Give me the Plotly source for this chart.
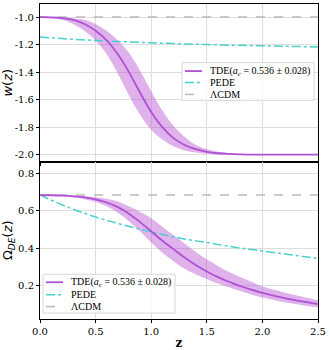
import plotly.graph_objects as go
from plotly.subplots import make_subplots

# redshift grid
z = [0.0, 0.1, 0.2, 0.3, 0.4, 0.5, 0.6, 0.7, 0.8, 0.9, 1.0, 1.1, 1.2,
     1.3, 1.4, 1.5, 1.6, 1.7, 1.8, 1.9, 2.0, 2.1, 2.2, 2.3, 2.4, 2.5]

# w(z) for TDE, with band
w_tde = [-1.0, -1.002, -1.008, -1.02, -1.05, -1.10, -1.17, -1.27, -1.40, -1.55,
         -1.69, -1.80, -1.88, -1.93, -1.96, -1.98, -1.99, -1.995, -1.998, -2.0,
         -2.0, -2.0, -2.0, -2.0, -2.0, -2.0]
w_tde_hi = [-1.0, -1.0, -1.002, -1.008, -1.02, -1.05, -1.10, -1.17, -1.26, -1.39,
            -1.54, -1.68, -1.79, -1.87, -1.93, -1.96, -1.98, -1.99, -1.995, -1.998,
            -2.0, -2.0, -2.0, -2.0, -2.0, -2.0]
w_tde_lo = [-1.002, -1.008, -1.02, -1.05, -1.10, -1.17, -1.27, -1.41, -1.57, -1.71,
            -1.82, -1.89, -1.94, -1.97, -1.985, -1.993, -1.997, -1.999, -2.0, -2.0,
            -2.0, -2.0, -2.0, -2.0, -2.0, -2.0]

# PEDE
z_pede = [0.0, 0.25, 0.5, 0.75, 1.0, 1.25, 1.5, 1.75, 2.0, 2.25, 2.5]
w_pede = [-1.145, -1.159, -1.170, -1.179, -1.187, -1.194, -1.200, -1.205, -1.209, -1.213, -1.217]
om_pede = [0.685, 0.62, 0.567, 0.525, 0.487, 0.455, 0.43, 0.405, 0.385, 0.365, 0.345]

# LCDM
z_lcdm = [0.0, 2.5]
w_lcdm = [-1.0, -1.0]
om_lcdm = [0.685, 0.685]

# Omega_DE(z) for TDE, with band
om_tde = [0.685, 0.684, 0.682, 0.678, 0.672, 0.662, 0.645, 0.62, 0.585, 0.54,
          0.49, 0.44, 0.395, 0.35, 0.31, 0.275, 0.245, 0.22, 0.197, 0.178,
          0.16, 0.145, 0.132, 0.12, 0.11, 0.10]
om_tde_hi = [0.686, 0.685, 0.684, 0.682, 0.679, 0.673, 0.665, 0.65, 0.625, 0.595,
             0.56, 0.515, 0.47, 0.425, 0.38, 0.34, 0.305, 0.272, 0.245, 0.22,
             0.195, 0.178, 0.161, 0.147, 0.134, 0.12]
om_tde_lo = [0.684, 0.683, 0.68, 0.673, 0.663, 0.648, 0.625, 0.59, 0.545, 0.49,
             0.43, 0.375, 0.33, 0.29, 0.26, 0.235, 0.21, 0.19, 0.17, 0.152,
             0.135, 0.122, 0.11, 0.1, 0.09, 0.082]

xt = [0.0, 0.5, 1.0, 1.5, 2.0, 2.5]
wt = [-2.0, -1.8, -1.6, -1.4, -1.2, -1.0]
ot = [0.2, 0.4, 0.6, 0.8]

legend_names = ['TDE(<i>a<sub>c</sub></i> = 0.536 ± 0.028)', 'PEDE', 'ΛCDM']

purple = '#b050d5'
band = 'rgba(186,85,211,0.45)'
cyan = '#48d1cc'
grey = '#bbbbbb'
serif = 'DejaVu Serif'

fig = make_subplots(rows=2, cols=1, shared_xaxes=True, vertical_spacing=0)

for row, yv, hi, lo, pede, lcdm in [
        (1, w_tde, w_tde_hi, w_tde_lo, w_pede, w_lcdm),
        (2, om_tde, om_tde_hi, om_tde_lo, om_pede, om_lcdm)]:
    fig.add_trace(go.Scatter(x=z, y=hi, mode='lines', line=dict(width=0, shape='spline'),
                             hoverinfo='skip'), row=row, col=1)
    fig.add_trace(go.Scatter(x=z, y=lo, mode='lines', line=dict(width=0, shape='spline'),
                             fill='tonexty', fillcolor=band, hoverinfo='skip'), row=row, col=1)
    fig.add_trace(go.Scatter(x=z_lcdm, y=lcdm, mode='lines', name=legend_names[2],
                             line=dict(color=grey, width=1.5, dash='dash')), row=row, col=1)
    fig.add_trace(go.Scatter(x=z_pede, y=pede, mode='lines', name=legend_names[1],
                             line=dict(color=cyan, width=1.5, dash='dashdot', shape='spline')),
                  row=row, col=1)
    fig.add_trace(go.Scatter(x=z, y=yv, mode='lines', name=legend_names[0],
                             line=dict(color=purple, width=1.8, shape='spline')), row=row, col=1)

axis_style = dict(showline=True, linecolor='black', linewidth=1, mirror=True,
                  showgrid=True, gridcolor='#dddddd', zeroline=False,
                  tickfont=dict(family=serif, size=10, color='black'),
                  ticks='outside', ticklen=3, tickwidth=0.8, tickcolor='black')

fig.update_xaxes(range=[0, 2.5], tickvals=xt, **axis_style)
fig.update_xaxes(showticklabels=False, row=1, col=1)
fig.update_xaxes(ticktext=[f'{v:.1f}' for v in xt], row=2, col=1,
                 title=dict(text='<b>z</b>', font=dict(family=serif, size=12, color='black'),
                            standoff=2))

fig.update_yaxes(range=[-2.05, -0.905], tickvals=wt, ticktext=[f'{v:.1f}' for v in wt],
                 title=dict(text='<i>w</i>(<i>z</i>)',
                            font=dict(family='DejaVu Sans', size=13, color='black'), standoff=3),
                 row=1, col=1, **axis_style)
fig.update_yaxes(range=[0.02, 0.865], tickvals=ot, ticktext=[f'{v:.1f}' for v in ot],
                 title=dict(text='Ω<sub><i>DE</i></sub>(<i>z</i>)',
                            font=dict(family='DejaVu Sans', size=13, color='black'), standoff=3),
                 row=2, col=1, **axis_style)

# hand-drawn legend boxes (matplotlib-like compact spacing)
L, R, T, B = 40, 318, 3, 320


def px(xp):
    return (xp - L) / (R - L)


def py(yp):
    return (B - yp) / (B - T)


styles = [dict(color=purple, width=1.8), dict(color=cyan, width=1.5, dash='dashdot'),
          dict(color=grey, width=1.5, dash='dash')]


def add_legend(x0, y0, x1, y1, rows_y, line_x0, line_x1, text_x):
    fig.add_shape(type='rect', xref='paper', yref='paper',
                  x0=px(x0), x1=px(x1), y0=py(y1), y1=py(y0),
                  fillcolor='rgba(255,255,255,0.85)', line=dict(color='#d8d8d8', width=1))
    for yy, name, st in zip(rows_y, legend_names, styles):
        fig.add_shape(type='line', xref='paper', yref='paper',
                      x0=px(line_x0), x1=px(line_x1), y0=py(yy), y1=py(yy), line=st)
        fig.add_annotation(xref='paper', yref='paper', x=px(text_x), y=py(yy),
                           xanchor='left', yanchor='middle', showarrow=False, text=name,
                           font=dict(family='Liberation Serif', size=10, color='black'))


add_legend(182, 62, 314, 100, [70.5, 82, 94], 185, 202, 208)
add_legend(43, 275, 175, 314, [283, 295.5, 307.5], 46, 63, 69)

fig.update_layout(
    width=330, height=350,
    margin=dict(l=40, r=12, t=3, b=30),
    plot_bgcolor='white', paper_bgcolor='white',
    showlegend=False,
)

fig.write_html("out.html", config={'displayModeBar': False},
               post_script="document.body.style.margin='0';")
